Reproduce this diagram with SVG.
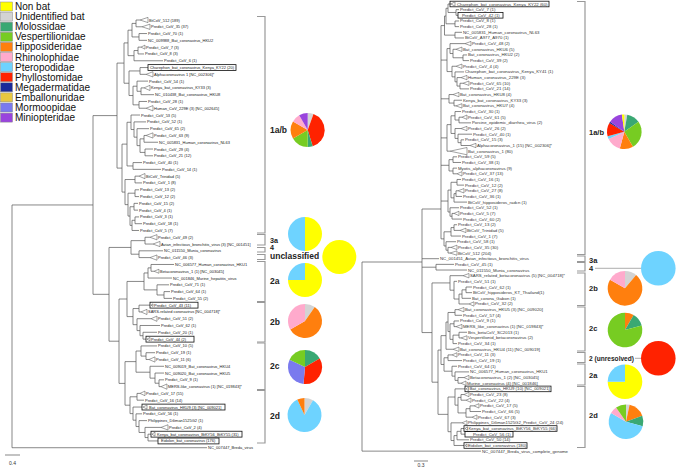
<svg xmlns="http://www.w3.org/2000/svg" width="677" height="468" viewBox="0 0 677 468">
<style>
.t{stroke:#555;stroke-width:0.7;fill:none}
.tri{fill:#fff;stroke:#555;stroke-width:0.55}
.bx{fill:none;stroke:#111;stroke-width:0.8}
.lf{font-family:"Liberation Sans",Arial,sans-serif;font-size:4px;fill:#222}
.rf{font-family:"Liberation Sans",Arial,sans-serif;font-size:4.3px;fill:#333}
.br{stroke:#999;stroke-width:1.2;fill:none}
.cl{font-family:"Liberation Sans",Arial,sans-serif;font-weight:bold;font-size:8.5px;fill:#222}
.cs{font-family:"Liberation Sans",Arial,sans-serif;font-weight:bold;font-size:7.2px;fill:#222}
.cr{font-family:"Liberation Sans",Arial,sans-serif;font-weight:bold;font-size:7.5px;fill:#222}
.lg{font-family:"Liberation Sans",Arial,sans-serif;font-size:10px;fill:#111}
.sw{stroke:#888;stroke-width:0.5}
.pie path,.pie circle{stroke:none}
.po{fill:none;stroke:#999;stroke-width:0.7}
.ln{stroke:#999;stroke-width:0.8;fill:none}
.sb{font-family:"Liberation Sans",Arial,sans-serif;font-size:5px;fill:#333}
</style>
<rect width="677" height="468" fill="#fff"/>

<g id="legend">
<rect class="sw" x="0.5" y="2" width="12" height="9" fill="#FFFF00"/><text class="lg" x="15" y="10">Non bat</text>
<rect class="sw" x="0.5" y="12.1" width="12" height="9" fill="#D3D3D3"/><text class="lg" x="15" y="20.1">Unidentified bat</text>
<rect class="sw" x="0.5" y="22.2" width="12" height="9" fill="#3AA873"/><text class="lg" x="15" y="30.2">Molossidae</text>
<rect class="sw" x="0.5" y="32.3" width="12" height="9" fill="#77CC22"/><text class="lg" x="15" y="40.3">Vespertilionidae</text>
<rect class="sw" x="0.5" y="42.4" width="12" height="9" fill="#FF7F0E"/><text class="lg" x="15" y="50.4">Hipposideridae</text>
<rect class="sw" x="0.5" y="52.5" width="12" height="9" fill="#FFAACC"/><text class="lg" x="15" y="60.5">Rhinolophidae</text>
<rect class="sw" x="0.5" y="62.6" width="12" height="9" fill="#6ED3FF"/><text class="lg" x="15" y="70.6">Pteropodidae</text>
<rect class="sw" x="0.5" y="72.7" width="12" height="9" fill="#FF2200"/><text class="lg" x="15" y="80.7">Phyllostomidae</text>
<rect class="sw" x="0.5" y="82.8" width="12" height="9" fill="#1A2A9A"/><text class="lg" x="15" y="90.8">Megadermatidae</text>
<rect class="sw" x="0.5" y="92.9" width="12" height="9" fill="#E8C840"/><text class="lg" x="15" y="100.9">Emballonuridae</text>
<rect class="sw" x="0.5" y="103" width="12" height="9" fill="#7A7AEE"/><text class="lg" x="15" y="111">Mormoopidae</text>
<rect class="sw" x="0.5" y="113.1" width="12" height="9" fill="#9944DD"/><text class="lg" x="15" y="121.1">Miniopteridae</text>
</g>

<g id="connectors">
<path class="t" d="M12,204.96V447.73M12,204.96H93M12,447.73H207"/>
<path class="t" transform="matrix(1,0,0,1.0119,33,-0.54)" d="M103,20.3V27M103,20.3H107M103,27H109
M106,33.7V40.4M106,33.7H114M106,40.4H114
M99,23.65V37.05M99,23.65H103M99,37.05H106
M105,47.1V53.85M105,47.1H108M105,53.85H111
M101,50.48V60.6M101,50.48H105M101,60.6H130
M95,30.35V55.54M95,30.35H99M95,55.54H101
M107,67.3V74M107,67.3H115M107,74H113
M108,87.4V94.1M108,87.4H111M108,94.1H121
M104,80.7V90.75M104,80.7H115M104,90.75H108
M106,100.8V107.5M106,100.8H114M106,107.5H113
M100,85.73V104.15M100,85.73H104M100,104.15H106
M96,70.65V94.94M96,70.65H107M96,94.94H100
M91,42.95V82.8M91,42.95H95M91,82.8H96
M111,134.4V141.1M111,134.4H113M111,141.1H125
M112,147.8V154.5M112,147.8H120M112,154.5H120
M107,137.75V151.15M107,137.75H111M107,151.15H112
M104,127.7V144.45M104,127.7H116M104,144.45H107
M101,121V136.08M101,121H113M101,136.08H104
M98,114.2V128.54M98,114.2H107M98,128.54H101
M100,161.2V167.9M100,161.2H109M100,167.9H128
M94,121.37V164.55M94,121.37H98M94,164.55H100
M102,174.6V181.3M102,174.6H106M102,181.3H109
M102,188.1V194.8M102,188.1H106M102,194.8H106
M101,201.5V208.2M101,201.5H105M101,208.2H105
M102,214.9V221.6M102,214.9H106M102,221.6H109
M99,218.25V228.3M99,218.25H102M99,228.3H106
M97,204.85V223.28M97,204.85H101M97,223.28H99
M95,191.45V214.06M95,191.45H102M95,214.06H97
M92,177.95V202.76M92,177.95H102M92,202.76H95
M89,142.96V190.36M89,142.96H94M89,190.36H92
M84,62.87V166.66M84,62.87H91M84,166.66H89
M112,235V241.7M112,235H117M112,241.7H120
M106,248.4V255.1M106,248.4H130M106,255.1H117
M98,238.35V251.75M98,238.35H112M98,251.75H106
M118,261.9V268.6M118,261.9H141M118,268.6H121
M115,265.25V275.3M115,265.25H118M115,275.3H139
M131,288.7V295.4M131,288.7H137M131,295.4H139
M124,282V292.05M124,282H136M124,292.05H131
M111,270.28V287.03M111,270.28H115M111,287.03H124
M106,302.1V308.8M106,302.1H117M106,308.8H108
M110,328.9V335.7M110,328.9H124M110,335.7H113
M107,322.2V332.3M107,322.2H127M107,332.3H110
M104,315.5V327.25M104,315.5H118M104,327.25H107
M100,305.45V321.38M100,305.45H106M100,321.38H104
M113,349.1V355.8M113,349.1H122M113,355.8H116
M108,342.4V352.45M108,342.4H124M108,352.45H113
M126,375.9V382.6M126,375.9H131M126,382.6H128
M122,369.2V379.25M122,369.2H131M122,379.25H126
M117,362.5V374.23M117,362.5H131M117,374.23H122
M103,347.43V368.36M103,347.43H108M103,368.36H117
M104,389.3V396M104,389.3H107M104,396H111
M115,429.6V436.3M115,429.6H118M115,436.3H125
M112,422.9V432.95M112,422.9H128M112,432.95H115
M106,416.2V427.93M106,416.2H114M106,427.93H112
M103,409.5V422.06M103,409.5H109M103,422.06H106
M100,402.8V415.78M100,402.8H109M100,415.78H103
M97,392.65V409.29M97,392.65H104M97,409.29H100
M94,278.65V313.41M94,278.65H111M94,313.41H100
M92,357.9V400.97M92,357.9H103M92,400.97H97
M86,296.03V379.43M86,296.03H94M86,379.43H92
M76,245.05V337.73M76,245.05H98M76,337.73H86
M60,114.77V291.39M60,114.77H84M60,291.39H76"/>
<path class="t" d="M456,9.66V15.32M456,9.66H459M456,15.32H458
M448,4V12.49M448,4H451M448,12.49H456
M455,20.98V26.64M455,20.98H459M455,26.64H459
M446,8.25V23.81M446,8.25H448M446,23.81H455
M455,32.3V37.96M455,32.3H462M455,37.96H464
M444.5,16.03V35.13M444.5,16.03H446M444.5,35.13H455
M463,54.94V60.6M463,54.94H467M463,60.6H469
M453,49.28V57.77M453,49.28H456M453,57.77H463
M450,43.62V53.52M450,43.62H465M450,53.52H453
M460,83.24V88.9M460,83.24H463M460,88.9H469
M457,77.58V86.07M457,77.58H461M457,86.07H460
M455,71.92V81.83M455,71.92H464M455,81.83H457
M452,66.26V76.87M452,66.26H456M452,76.87H455
M447,48.57V71.57M447,48.57H450M447,71.57H452
M454,100.22V105.88M454,100.22H462M454,105.88H456
M449,94.56V103.05M449,94.56H453M449,103.05H454
M459,117.2V122.86M459,117.2H462M459,122.86H471
M455,111.54V120.03M455,111.54H461M455,120.03H459
M461,139.84V145.5M461,139.84H464M461,145.5H470
M458,134.18V142.67M458,134.18H472M458,142.67H461
M455,128.52V138.43M455,128.52H461M455,138.43H458
M451,115.79V133.47M451,115.79H455M451,133.47H455
M447,124.63V151.16M447,124.63H451M447,151.16H450
M453,156.82V162.48M453,156.82H457M453,162.48H461
M453,168.14V173.8M453,168.14H457M453,173.8H457
M449,159.65V170.97M449,159.65H453M449,170.97H453
M457,179.46V185.12M457,179.46H461M457,185.12H464
M456,190.78V196.44M456,190.78H458M456,196.44H462
M454,193.61V202.1M454,193.61H456M454,202.1H467
M451,182.29V197.86M451,182.29H457M451,197.86H454
M452,213.42V219.08M452,213.42H454M452,219.08H462
M450,207.76V216.25M450,207.76H459M450,216.25H452
M448,190.07V212M448,190.07H451M448,212H450
M454,224.74V230.4M454,224.74H457M454,230.4H460
M451,227.57V236.06M451,227.57H454M451,236.06H461
M448,247.38V253.04M448,247.38H451M448,253.04H450
M446,241.72V250.21M446,241.72H456M446,250.21H448
M444,231.8V245.97M444,231.8H451M444,245.97H446
M441,25.58V238.88M441,25.58H444.5M441,60.07H447M441,98.81H449M441,137.9H447M441,165.31H449M441,201.04H448M441,238.88H444
M466,287V292.66M466,287H472M466,292.66H472
M462,289.83V298.32M462,289.83H466M462,298.32H471
M459,294.08V303.98M459,294.08H462M459,303.98H469
M454,281.34V299.03M454,281.34H457M454,299.03H459
M450,275.68V290.19M450,275.68H463M450,290.19H454
M455,309.64V315.3M455,309.64H458M455,315.3H462
M454,320.96V326.62M454,320.96H459M454,326.62H456
M459,332.28V337.94M459,332.28H467M459,337.94H461
M453,335.11V343.6M453,335.11H459M453,343.6H457
M450,323.79V339.36M450,323.79H454M450,339.36H453
M448,312.47V331.57M448,312.47H455M448,331.57H450
M446,322.02V349.26M446,322.02H448M446,349.26H453
M448,354.92V360.58M448,354.92H452M448,360.58H462
M458,377.56V383.22M458,377.56H464M458,383.22H461
M455,371.9V380.39M455,371.9H469M455,380.39H458
M452,366.24V376.15M452,366.24H457M452,376.15H455
M461,394.54V400.2M461,394.54H464M461,400.2H466
M470,405.86V411.52M470,405.86H474M470,411.52H481
M466,408.69V417.18M466,408.69H470M466,417.18H472
M458,397.37V412.94M458,397.37H461M458,412.94H466
M455,388.88V405.15M455,388.88H465M455,405.15H458
M461,428.5V434.16M461,428.5H464M461,434.16H465
M457,431.33V439.82M457,431.33H461M457,439.82H469
M454,435.58V445.48M454,435.58H457M454,445.48H464
M451,422.84V440.53M451,422.84H462M451,440.53H454
M448,397.02V431.69M448,397.02H455M448,431.69H451
M444,357.75V371.2M444,357.75H448M444,371.2H452
M441,335.64V364.48M441,335.64H446M441,364.48H444
M438,350.06V414.35M438,350.06H441M438,414.35H448
M432,282.93V382.2M432,282.93H450M432,382.2H438
M436,264.36V270.02M436,264.36H454M436,270.02H467
M422,209V332.57M422,209H441M422,258.7H439M422,267.19H436M422,332.57H432
M362,262V451.14M362,262H422M362,451.14H481"/>
</g>

<g id="left-tips" transform="matrix(1,0,0,1.0119,33,-0.54)">
<g id="L1"><polygon class="tri" points="107,20.3 115,17.7 115,22.9"/><text class="lf" x="116" y="21.8">BtCoV_512 (189)</text></g>
<g id="L2"><polygon class="tri" points="109,27 117,24.4 117,29.6"/><text class="lf" x="118" y="28.5">Predict_CoV_35 (37)</text></g>
<g id="L3"><text class="lf" x="115" y="35.2">Predict_CoV_70 (1)</text></g>
<g id="L4"><text class="lf" x="115" y="41.9">NC_009988_Bat_coronavirus_HKU2</text></g>
<g id="L5"><polygon class="tri" points="108,47.1 112,45.1 112,49.1"/><text class="lf" x="113" y="48.6">Predict_CoV_7 (3)</text></g>
<g id="L6"><text class="lf" x="112" y="55.35">Predict_CoV_8 (3)</text></g>
<g id="L7"><text class="lf" x="131" y="62.1">Predict_CoV_6 (1)</text></g>
<g id="L8"><rect class="bx" x="115" y="64.4" width="88" height="5.8"/><text class="lf" x="117" y="68.8">Charephon_bat_coronavirus_Kenya_KY22 (20)</text></g>
<g id="L9"><polygon class="tri" points="113,74 120,71.4 120,76.6"/><text class="lf" x="121" y="75.5">Alphacoronavirus 1 [NC_002306]*</text></g>
<g id="L10"><text class="lf" x="116" y="82.2">Predict_CoV_54 (1)</text></g>
<g id="L11"><polygon class="tri" points="111,87.4 117,84.8 117,90"/><text class="lf" x="118" y="88.9">Kenya_bat_coronavirus_KY33 (3)</text></g>
<g id="L12"><text class="lf" x="122" y="95.6">NC_010438_Bat_coronavirus_HKU8</text></g>
<g id="L13"><text class="lf" x="115" y="102.3">Predict_CoV_28 (1)</text></g>
<g id="L14"><polygon class="tri" points="113,107.5 120,104.9 120,110.1"/><text class="lf" x="121" y="109">Human_CoV_229E (3) [NC_002645]</text></g>
<g id="L15"><text class="lf" x="108" y="115.7">Predict_CoV_53 (5)</text></g>
<g id="L16"><text class="lf" x="114" y="122.5">Predict_CoV_52 (1)</text></g>
<g id="L17"><text class="lf" x="117" y="129.2">Predict_CoV_65 (2)</text></g>
<g id="L18"><polygon class="tri" points="113,134.4 120,131.8 120,137"/><text class="lf" x="121" y="135.9">Predict_CoV_63 (9)</text></g>
<g id="L19"><text class="lf" x="126" y="142.6">NC_005831_Human_coronavirus_NL63</text></g>
<g id="L20"><text class="lf" x="121" y="149.3">Predict_CoV_29 (4)</text></g>
<g id="L21"><text class="lf" x="121" y="156">Predict_CoV_21 (12)</text></g>
<g id="L22"><text class="lf" x="110" y="162.7">Predict_CoV_40 (1)</text></g>
<g id="L23"><text class="lf" x="129" y="169.4">Predict_CoV_14 (1)</text></g>
<g id="L24"><polygon class="tri" points="106,174.6 112,172 112,177.2"/><text class="lf" x="113" y="176.1">BtCoV_Trinidad (5)</text></g>
<g id="L25"><text class="lf" x="110" y="182.8">Predict_CoV_1 (8)</text></g>
<g id="L26"><text class="lf" x="107" y="189.6">Predict_CoV_13 (2)</text></g>
<g id="L27"><text class="lf" x="107" y="196.3">Predict_CoV_12 (2)</text></g>
<g id="L28"><text class="lf" x="106" y="203">Predict_CoV_15 (2)</text></g>
<g id="L29"><text class="lf" x="106" y="209.7">Predict_CoV_4 (1)</text></g>
<g id="L30"><text class="lf" x="107" y="216.4">Predict_CoV_3 (1)</text></g>
<g id="L31"><text class="lf" x="110" y="223.1">Predict_CoV_18 (1)</text></g>
<g id="L32"><text class="lf" x="107" y="229.8">Predict_CoV_5 (7)</text></g>
<g id="L33"><polygon class="tri" points="117,235 124,232.4 124,237.6"/><text class="lf" x="125" y="236.5">Predict_CoV_49 (2)</text></g>
<g id="L34"><polygon class="tri" points="120,241.7 127,239.1 127,244.3"/><text class="lf" x="128" y="243.2">Avian_infectious_bronchitis_virus (3) [NC_001451]</text></g>
<g id="L35"><text class="lf" x="131" y="249.9">NC_011550_Munia_coronavirus</text></g>
<g id="L36"><polygon class="tri" points="117,255.1 124,252.5 124,257.7"/><text class="lf" x="125" y="256.6">Predict_CoV_46 (3)</text></g>
<g id="L37"><text class="lf" x="142" y="263.4">NC_006577_Human_coronavirus_HKU1</text></g>
<g id="L38"><polygon class="tri" points="121,268.6 126,266.6 126,270.6"/><text class="lf" x="127" y="270.1">Betacoronavirus_1 (1) [NC_003045]</text></g>
<g id="L39"><text class="lf" x="140" y="276.8">NC_001846_Murine_hepatitis_virus</text></g>
<g id="L40"><text class="lf" x="137" y="283.5">Predict_CoV_71 (1)</text></g>
<g id="L41"><text class="lf" x="138" y="290.2">Predict_CoV_64 (1)</text></g>
<g id="L42"><text class="lf" x="140" y="296.9">Predict_CoV_55 (2)</text></g>
<g id="L43"><rect class="bx" x="117" y="299.2" width="48" height="5.8"/><polygon class="tri" points="118,302.1 120,300.8 120,303.4"/><text class="lf" x="121" y="303.6">Predict_CoV_43 (11)</text></g>
<g id="L44"><polygon class="tri" points="108,308.8 114,306.2 114,311.4"/><text class="lf" x="115" y="310.3">SARS-related coronavirus [NC_004718]*</text></g>
<g id="L45"><polygon class="tri" points="118,315.5 124,312.9 124,318.1"/><text class="lf" x="125" y="317">Predict_CoV_51 (2)</text></g>
<g id="L46"><text class="lf" x="128" y="323.7">Predict_CoV_62 (1)</text></g>
<g id="L47"><text class="lf" x="125" y="330.4">Predict_CoV_20 (1)</text></g>
<g id="L48"><rect class="bx" x="113" y="332.8" width="48" height="5.8"/><polygon class="tri" points="114,335.7 117,334 117,337.4"/><text class="lf" x="118" y="337.2">Predict_CoV_44 (2)</text></g>
<g id="L49"><text class="lf" x="125" y="343.9">Predict_CoV_10 (5)</text></g>
<g id="L50"><text class="lf" x="123" y="350.6">Predict_CoV_19 (1)</text></g>
<g id="L51"><polygon class="tri" points="116,355.8 122,353.2 122,358.4"/><text class="lf" x="123" y="357.3">Predict_CoV_11 (6)</text></g>
<g id="L52"><text class="lf" x="132" y="364">NC_009019_Bat_coronavirus_HKU4</text></g>
<g id="L53"><text class="lf" x="132" y="370.7">NC_009020_Bat_coronavirus_HKU5</text></g>
<g id="L54"><text class="lf" x="132" y="377.4">Predict_CoV_9 (1)</text></g>
<g id="L55"><polygon class="tri" points="128,382.6 134,380 134,385.2"/><text class="lf" x="135" y="384.1">MERS-like_coronavirus (1) [NC_019843]*</text></g>
<g id="L56"><polygon class="tri" points="107,389.3 112,387 112,391.6"/><text class="lf" x="113" y="390.8">Predict_CoV_17 (55)</text></g>
<g id="L57"><text class="lf" x="112" y="397.5">Predict_CoV_16 (14)</text></g>
<g id="L58"><rect class="bx" x="109" y="399.9" width="83" height="5.8"/><polygon class="tri" points="110,402.8 114,400.8 114,404.8"/><text class="lf" x="116" y="404.3">Bat_coronavirus_HKU9 (3) [NC_009021]</text></g>
<g id="L59"><text class="lf" x="110" y="411">Predict_CoV_56 (1)</text></g>
<g id="L60"><text class="lf" x="115" y="417.7">Philippines_Diliman1525G2 (1)</text></g>
<g id="L61"><polygon class="tri" points="128,422.9 135,420.3 135,425.5"/><text class="lf" x="136" y="424.4">Predict_CoV_2 (4)</text></g>
<g id="L62"><rect class="bx" x="118" y="426.7" width="91" height="5.8"/><polygon class="tri" points="119,429.6 122,427.6 122,431.6"/><text class="lf" x="124" y="431.1">Kenya_bat_coronavirus_BtKY56_BtKY55 (31)</text></g>
<g id="L63"><rect class="bx" x="125" y="433.4" width="61" height="5.8"/><text class="lf" x="128" y="437.8">Eidolon_bat_coronavirus (176)</text></g>
</g>
<g id="L64"><text class="lf" x="208" y="449.2">NC_007447_Breda_virus</text></g>

<g id="left-scale"><path class="t" d="M5,455H20"/><text class="sb" x="12.5" y="465" text-anchor="middle">0.4</text></g>

<g id="left-brackets">
<path class="br" d="M257,16.5H265V233H257"/>
<path class="br" d="M257,234.5H265V245H257"/>
<path class="br" d="M257,247.5H265V252H257"/>
<path class="br" d="M257,254.5H265V259.5H257"/>
<path class="br" d="M257,261.5H265V301.5H257"/>
<path class="br" d="M257,302.5H265V342H257"/>
<path class="br" d="M257,343H265V389.5H257"/>
<path class="br" d="M257,390.5H265V443H257"/>
<text class="cl" x="270" y="133">1a/b</text>
<text class="cs" x="270" y="242.5">3a</text>
<text class="cs" x="270" y="249.5">4</text>
<text class="cl" x="270" y="258.5">unclassified</text>
<text class="cl" x="270" y="284">2a</text>
<text class="cl" x="270" y="325">2b</text>
<text class="cl" x="270" y="369">2c</text>
<text class="cl" x="270" y="419">2d</text>
</g>

<g id="pie-L1a" class="pie">
<path d="M307.7,130L307.7,113A17,17 0 0 1 313.51,114.02Z" fill="#D3D3D3"/>
<path d="M307.7,130L313.51,114.02A17,17 0 0 1 312.67,146.26Z" fill="#FF2200"/>
<path d="M307.7,130L312.67,146.26A17,17 0 0 1 307.7,147Z" fill="#3AA873"/>
<path d="M307.7,130L307.7,147A17,17 0 0 1 292.98,138.5Z" fill="#77CC22"/>
<path d="M307.7,130L292.98,138.5A17,17 0 0 1 292.98,121.5Z" fill="#FF7F0E"/>
<path d="M307.7,130L292.98,121.5A17,17 0 0 1 299.2,115.28Z" fill="#FFAACC"/>
<path d="M307.7,130L299.2,115.28A17,17 0 0 1 307.7,113Z" fill="#9944DD"/>
<circle class="po" cx="307.7" cy="130" r="17"/>
</g>
<g id="pie-L3a" class="pie">
<path d="M305,234L305,217A17,17 0 0 1 305,251Z" fill="#FFFF00"/>
<path d="M305,234L305,251A17,17 0 0 1 305,217Z" fill="#6ED3FF"/>
<path class="ln" d="M305,217V251"/>
<circle class="po" cx="305" cy="234" r="17"/>
</g>
<g id="pie-Lunc" class="pie">
<circle cx="339.3" cy="257" r="17" fill="#FFFF00"/>
<path class="ln" d="M339.3,257V240"/>
<circle class="po" cx="339.3" cy="257" r="17"/>
</g>
<g id="pie-L2a" class="pie">
<path d="M305,280L305,263A17,17 0 1 1 288,280Z" fill="#FFFF00"/>
<path d="M305,280L288,280A17,17 0 0 1 305,263Z" fill="#6ED3FF"/>
<path class="ln" d="M288,280H305V263"/>
<circle class="po" cx="305" cy="280" r="17"/>
</g>
<g id="pie-L2b" class="pie">
<path d="M305,321L305,304A17,17 0 0 1 314.75,307.08Z" fill="#D3D3D3"/>
<path d="M305,321L314.75,307.08A17,17 0 1 1 290.28,329.5Z" fill="#FF7F0E"/>
<path d="M305,321L290.28,329.5A17,17 0 0 1 305,304Z" fill="#FFAACC"/>
<circle class="po" cx="305" cy="321" r="17"/>
</g>
<g id="pie-L2c" class="pie">
<path d="M305,367L305,350A17,17 0 0 1 319.72,358.5Z" fill="#3AA873"/>
<path d="M305,367L319.72,358.5A17,17 0 0 1 303.52,383.94Z" fill="#FF2200"/>
<path d="M305,367L303.52,383.94A17,17 0 0 1 289.59,359.82Z" fill="#7A7AEE"/>
<path d="M305,367L289.59,359.82A17,17 0 0 1 305,350Z" fill="#77CC22"/>
<circle class="po" cx="305" cy="367" r="17"/>
</g>
<g id="pie-L2d" class="pie">
<path d="M304.5,415L304.5,398A17,17 0 0 1 313,400.28Z" fill="#D3D3D3"/>
<path d="M304.5,415L313,400.28A17,17 0 1 1 297.32,399.59Z" fill="#6ED3FF"/>
<path d="M304.5,415L297.32,399.59A17,17 0 0 1 304.5,398Z" fill="#FF7F0E"/>
<circle class="po" cx="304.5" cy="415" r="17"/>
</g>

<g id="right-tips">
<g id="R1"><rect class="bx" x="450" y="1.2" width="99" height="5.6"/><polygon class="tri" points="451,4 455,1.8 455,6.2"/><text class="rf" x="457" y="5.5">Charephon_bat_coronavirus_Kenya_KY22 (60)</text></g>
<g id="R2"><text class="rf" x="460" y="11.16">Predict_CoV_7 (1)</text></g>
<g id="R3"><rect class="bx" x="458" y="12.5" width="45" height="5.6"/><text class="rf" x="462" y="16.82">Predict_CoV_42 (1)</text></g>
<g id="R4"><text class="rf" x="460" y="22.48">Predict_CoV_8 (1)</text></g>
<g id="R5"><text class="rf" x="460" y="28.14">Predict_CoV_28 (1)</text></g>
<g id="R6"><text class="rf" x="463" y="33.8">NC_005831_Human_coronavirus_NL63</text></g>
<g id="R7"><text class="rf" x="465" y="39.46">BtCoV_A977_A970 (1)</text></g>
<g id="R8"><polygon class="tri" points="465,43.62 471,41.42 471,45.82"/><text class="rf" x="472" y="45.12">Predict_CoV_48 (2)</text></g>
<g id="R9"><polygon class="tri" points="456,49.28 462,47.08 462,51.48"/><text class="rf" x="463" y="50.78">Bat_coronavirus_HKU6 (5)</text></g>
<g id="R10"><text class="rf" x="468" y="56.44">Bat_coronavirus_HKU2 (2)</text></g>
<g id="R11"><text class="rf" x="470" y="62.1">Predict_CoV_39 (2)</text></g>
<g id="R12"><polygon class="tri" points="456,66.26 462,64.06 462,68.46"/><text class="rf" x="463" y="67.76">Predict_CoV_4 (4)</text></g>
<g id="R13"><text class="rf" x="465" y="73.42">Charephon_bat_coronavirus_Kenya_KY41 (1)</text></g>
<g id="R14"><polygon class="tri" points="461,77.58 467,75.38 467,79.78"/><text class="rf" x="468" y="79.08">Human_coronavirus_229E (3)</text></g>
<g id="R15"><polygon class="tri" points="463,83.24 469,81.04 469,85.44"/><text class="rf" x="470" y="84.74">Predict_CoV_65 (10)</text></g>
<g id="R16"><text class="rf" x="470" y="90.4">Predict_CoV_21 (14)</text></g>
<g id="R17"><polygon class="tri" points="453,94.56 459,92.36 459,96.76"/><text class="rf" x="460" y="96.06">Bat_coronavirus_HKU8 (4)</text></g>
<g id="R18"><text class="rf" x="463" y="101.72">Kenya_bat_coronavirus_KY33 (3)</text></g>
<g id="R19"><polygon class="tri" points="456,105.88 462,103.68 462,108.08"/><text class="rf" x="463" y="107.38">Bat_coronavirus_HKU7 (4)</text></g>
<g id="R20"><text class="rf" x="462" y="113.04">Predict_CoV_30 (1)</text></g>
<g id="R21"><polygon class="tri" points="462,117.2 467,115 467,119.4"/><text class="rf" x="468" y="118.7">Predict_CoV_61 (5)</text></g>
<g id="R22"><text class="rf" x="472" y="124.36">Porcine_epidemic_diarrhea_virus (2)</text></g>
<g id="R23"><polygon class="tri" points="461,128.52 467,126.32 467,130.72"/><text class="rf" x="468" y="130.02">Predict_CoV_26 (2)</text></g>
<g id="R24"><text class="rf" x="473" y="135.68">Predict_CoV_40 (1)</text></g>
<g id="R25"><text class="rf" x="465" y="141.34">Predict_CoV_15 (3)</text></g>
<g id="R26"><polygon class="tri" points="470,145.5 476,143.3 476,147.7"/><text class="rf" x="477" y="147">Alphacoronavirus_1 (15) [NC_002306]*</text></g>
<g id="R27"><polygon class="tri" points="450,151.16 467,147.5 467,154.8"/><text class="rf" x="468" y="152.66">Bat_coronavirus_1 (80)</text></g>
<g id="R28"><text class="rf" x="458" y="158.32">Predict_CoV_59 (5)</text></g>
<g id="R29"><text class="rf" x="462" y="163.98">Predict_CoV_38 (1)</text></g>
<g id="R30"><text class="rf" x="458" y="169.64">Myotis_alphacoronavirus (9)</text></g>
<g id="R31"><polygon class="tri" points="457,173.8 462,171.6 462,176"/><text class="rf" x="463" y="175.3">Predict_CoV_37 (13)</text></g>
<g id="R32"><text class="rf" x="462" y="180.96">Predict_CoV_16 (1)</text></g>
<g id="R33"><text class="rf" x="465" y="186.62">Predict_CoV_12 (2)</text></g>
<g id="R34"><polygon class="tri" points="458,190.78 464,188.58 464,192.98"/><text class="rf" x="465" y="192.28">Predict_CoV_27 (8)</text></g>
<g id="R35"><text class="rf" x="463" y="197.94">Predict_CoV_36 (1)</text></g>
<g id="R36"><text class="rf" x="468" y="203.6">BtCoV_hipposideros_radcn (1)</text></g>
<g id="R37"><text class="rf" x="460" y="209.26">Predict_CoV_52 (1)</text></g>
<g id="R38"><polygon class="tri" points="454,213.42 459,211.22 459,215.62"/><text class="rf" x="460" y="214.92">Predict_CoV_5 (7)</text></g>
<g id="R39"><text class="rf" x="463" y="220.58">Predict_CoV_60 (2)</text></g>
<g id="R40"><text class="rf" x="458" y="226.24">Predict_CoV_13 (2)</text></g>
<g id="R41"><polygon class="tri" points="460,230.4 466,228.2 466,232.6"/><text class="rf" x="467" y="231.9">BtCoV_Trinidad (5)</text></g>
<g id="R42"><text class="rf" x="462" y="237.56">Predict_CoV_1 (7)</text></g>
<g id="R43"><text class="rf" x="457" y="243.22">Predict_CoV_58 (1)</text></g>
<g id="R44"><polygon class="tri" points="451,247.38 457,245.18 457,249.58"/><text class="rf" x="458" y="248.88">Predict_CoV_35 (30)</text></g>
<g id="R45"><polygon class="tri" points="450,253.04 457,250.84 457,255.24"/><text class="rf" x="458" y="254.54">BtCoV_512 (204)</text></g>
<g id="R46"><text class="rf" x="440" y="260.2">NC_001451_Avian_infectious_bronchitis_virus</text></g>
<g id="R47"><text class="rf" x="455" y="265.86">Predict_CoV_45 (1)</text></g>
<g id="R48"><text class="rf" x="468" y="271.52">NC_011550_Munia_coronavirus</text></g>
<g id="R49"><polygon class="tri" points="463,275.68 469,273.48 469,277.88"/><text class="rf" x="470" y="277.18">SARS_related_betacoronavirus (5) [NC_004718]*</text></g>
<g id="R50"><text class="rf" x="458" y="282.84">Predict_CoV_51 (1)</text></g>
<g id="R51"><text class="rf" x="473" y="288.5">Predict_CoV_62 (1)</text></g>
<g id="R52"><text class="rf" x="473" y="294.16">BtCoV_hipposideros_KT_Thailand(1)</text></g>
<g id="R53"><text class="rf" x="472" y="299.82">Bat_corona_Gabon (1)</text></g>
<g id="R54"><polygon class="tri" points="469,303.98 474,301.78 474,306.18"/><text class="rf" x="475" y="305.48">Predict_CoV_32 (2)</text></g>
<g id="R55"><polygon class="tri" points="458,309.64 464,307.44 464,311.84"/><text class="rf" x="465" y="311.14">Bat_coronavirus_HKU5 (3) [NC_009020]</text></g>
<g id="R56"><text class="rf" x="463" y="316.8">Predict_CoV_57 (4)</text></g>
<g id="R57"><text class="rf" x="460" y="322.46">Predict_CoV_9 (1)</text></g>
<g id="R58"><polygon class="tri" points="456,326.62 462,324.42 462,328.82"/><text class="rf" x="463" y="328.12">MERS_like_coronavirus (1) [NC_019843]*</text></g>
<g id="R59"><text class="rf" x="468" y="333.78">Bris_betaCoV_SC2013 (1)</text></g>
<g id="R60"><polygon class="tri" points="461,337.94 467,335.74 467,340.14"/><text class="rf" x="468" y="339.44">Vespertilionid_betacoronavirus (2)</text></g>
<g id="R61"><text class="rf" x="458" y="345.1">Predict_CoV_34 (1)</text></g>
<g id="R62"><polygon class="tri" points="453,349.26 459,347.06 459,351.46"/><text class="rf" x="460" y="350.76">Bat_coronavirus_HKU4 (11) [NC_009019]</text></g>
<g id="R63"><polygon class="tri" points="452,354.92 457,352.72 457,357.12"/><text class="rf" x="458" y="356.42">Predict_CoV_11 (3)</text></g>
<g id="R64"><text class="rf" x="463" y="362.08">Predict_CoV_19 (1)</text></g>
<g id="R65"><text class="rf" x="458" y="367.74">Predict_CoV_64 (1)</text></g>
<g id="R66"><text class="rf" x="470" y="373.4">NC_006577_Human_coronavirus_HKU1</text></g>
<g id="R67"><polygon class="tri" points="464,377.56 469,375.36 469,379.76"/><text class="rf" x="470" y="379.06">Betacoronavirus_1 (2) [NC_003045]</text></g>
<g id="R68"><polygon class="tri" points="461,383.22 466,381.02 466,385.42"/><text class="rf" x="467" y="384.72">Murine_coronavirus (4) [NC_001846]</text></g>
<g id="R69"><rect class="bx" x="465" y="386.1" width="86" height="5.6"/><polygon class="tri" points="466,388.88 468.5,387.2 468.5,390.6"/><text class="rf" x="469.5" y="390.38">Bat_coronavirus_HKU9 (10) [NC_009021]</text></g>
<g id="R70"><polygon class="tri" points="464,394.54 469,392.34 469,396.74"/><text class="rf" x="470" y="396.04">Predict_CoV_23 (8)</text></g>
<g id="R71"><polygon class="tri" points="466,400.2 471,398 471,402.4"/><text class="rf" x="472" y="401.7">Predict_CoV_22 (4)</text></g>
<g id="R72"><polygon class="tri" points="474,405.86 479,403.66 479,408.06"/><text class="rf" x="480" y="407.36">Predict_CoV_17 (5)</text></g>
<g id="R73"><text class="rf" x="482" y="413.02">Predict_CoV_66 (5)</text></g>
<g id="R74"><polygon class="tri" points="472,417.18 477,414.98 477,419.38"/><text class="rf" x="478" y="418.68">Predict_CoV_67 (3)</text></g>
<g id="R75"><polygon class="tri" points="462,422.84 467,420.64 467,425.04"/><text class="rf" x="468" y="424.34">Philippines_Diliman1525G2_Predict_CoV_24 (24)</text></g>
<g id="R76"><rect class="bx" x="464" y="425.7" width="93" height="5.6"/><polygon class="tri" points="465,428.5 467.5,426.8 467.5,430.2"/><text class="rf" x="468.5" y="430">Kenya_bat_coronavirus_BtKY56_BtKY55 (66)</text></g>
<g id="R77"><rect class="bx" x="465" y="431.4" width="48" height="5.6"/><text class="rf" x="473" y="435.66">Predict_CoV_56 (1)</text></g>
<g id="R78"><text class="rf" x="470" y="441.32">Predict_CoV_50 (14)</text></g>
<g id="R79"><rect class="bx" x="464" y="442.7" width="63" height="5.6"/><polygon class="tri" points="465,445.48 467,444 467,447"/><text class="rf" x="468" y="446.98">Eidolon_bat_coronavirus (180)</text></g>
<g id="R80"><text class="rf" x="482" y="452.64">NC_007447_Breda_virus_complete_genome</text></g>
</g>

<g id="right-scale"><path class="t" d="M414,461H428"/><text class="sb" x="421" y="467" text-anchor="middle">0.3</text></g>

<g id="right-brackets">
<path class="br" d="M577,1.5H585V254.5H577"/>
<path class="br" d="M577,256H585V261.5H577"/>
<path class="br" d="M577,262.5H585V271H577"/>
<path class="br" d="M577,273H585V305.5H577"/>
<path class="br" d="M577,307H585V351H577"/>
<path class="br" d="M577,352.5H585V362.5H577"/>
<path class="br" d="M577,364H585V385H577"/>
<path class="br" d="M577,386.5H585V447.5H577"/>
<text class="cr" x="589" y="134.5">1a/b</text>
<text class="cr" x="589" y="262.7">3a</text>
<text class="cr" x="589" y="270.9">4</text>
<text class="cr" x="589" y="290.7">2b</text>
<text class="cr" x="589" y="330.7">2c</text>
<text class="cr" x="589" y="360.7" textLength="45" lengthAdjust="spacingAndGlyphs">2 (unresolved)</text>
<text class="cr" x="589" y="377.7">2a</text>
<text class="cr" x="589" y="417.7">2d</text>
<path class="ln" d="M595,268.3H641M635,358.3H641"/>
</g>

<g id="pie-R1a" class="pie">
<path d="M624.3,131.7L624.3,114.4A17.3,17.3 0 0 1 627.3,114.66Z" fill="#D3D3D3"/>
<path d="M624.3,131.7L627.3,114.66A17.3,17.3 0 0 1 638.47,121.78Z" fill="#3AA873"/>
<path d="M624.3,131.7L638.47,121.78A17.3,17.3 0 0 1 632.95,146.68Z" fill="#77CC22"/>
<path d="M624.3,131.7L632.95,146.68A17.3,17.3 0 0 1 619.82,148.41Z" fill="#FF7F0E"/>
<path d="M624.3,131.7L619.82,148.41A17.3,17.3 0 0 1 608.62,139.01Z" fill="#FFAACC"/>
<path d="M624.3,131.7L608.62,139.01A17.3,17.3 0 0 1 607.59,136.18Z" fill="#6ED3FF"/>
<path d="M624.3,131.7L607.59,136.18A17.3,17.3 0 0 1 609.32,123.05Z" fill="#FF2200"/>
<path d="M624.3,131.7L609.32,123.05A17.3,17.3 0 0 1 610.13,121.78Z" fill="#1A2A9A"/>
<path d="M624.3,131.7L610.13,121.78A17.3,17.3 0 0 1 621.89,114.57Z" fill="#9944DD"/>
<path d="M624.3,131.7L621.89,114.57A17.3,17.3 0 0 1 624.3,114.4Z" fill="#FFFF00"/>
<circle class="po" cx="624.3" cy="131.7" r="17.3"/>
</g>
<g id="pie-R4" class="pie">
<circle cx="658.3" cy="268.3" r="17.3" fill="#6ED3FF"/>
<path class="ln" d="M658.3,268.3V251"/>
<circle class="po" cx="658.3" cy="268.3" r="17.3"/>
</g>
<g id="pie-R2b" class="pie">
<path d="M625,288.3L625,271A17.3,17.3 0 0 1 636.12,275.05Z" fill="#D3D3D3"/>
<path d="M625,288.3L636.12,275.05A17.3,17.3 0 1 1 610.02,279.65Z" fill="#FF7F0E"/>
<path d="M625,288.3L610.02,279.65A17.3,17.3 0 0 1 625,271Z" fill="#FFAACC"/>
<circle class="po" cx="625" cy="288.3" r="17.3"/>
</g>
<g id="pie-R2c" class="pie">
<path d="M625,330L625,312.7A17.3,17.3 0 0 1 633.65,315.02Z" fill="#FF7F0E"/>
<path d="M625,330L633.65,315.02A17.3,17.3 0 0 1 641.71,325.52Z" fill="#3AA873"/>
<path d="M625,330L641.71,325.52A17.3,17.3 0 1 1 625,312.7Z" fill="#77CC22"/>
<circle class="po" cx="625" cy="330" r="17.3"/>
</g>
<g id="pie-R2u" class="pie">
<circle cx="658.3" cy="358.3" r="17.3" fill="#FF2200"/>
<path class="ln" d="M658.3,358.3V341"/>
<circle class="po" cx="658.3" cy="358.3" r="17.3"/>
</g>
<g id="pie-R2a" class="pie">
<path d="M625,381.7L625,364.4A17.3,17.3 0 1 1 607.7,381.7Z" fill="#FFFF00"/>
<path d="M625,381.7L607.7,381.7A17.3,17.3 0 0 1 625,364.4Z" fill="#6ED3FF"/>
<path class="ln" d="M607.7,381.7H625V364.4"/>
<circle class="po" cx="625" cy="381.7" r="17.3"/>
</g>
<g id="pie-R2d" class="pie">
<path d="M626,421.7L626,404.4A17.3,17.3 0 0 1 629.6,404.78Z" fill="#D3D3D3"/>
<path d="M626,421.7L629.6,404.78A17.3,17.3 0 0 1 642.26,415.78Z" fill="#FF7F0E"/>
<path d="M626,421.7L642.26,415.78A17.3,17.3 0 0 1 642.71,426.18Z" fill="#3AA873"/>
<path d="M626,421.7L642.71,426.18A17.3,17.3 0 1 1 611.02,413.05Z" fill="#6ED3FF"/>
<path d="M626,421.7L611.02,413.05A17.3,17.3 0 0 1 616.08,407.53Z" fill="#FFAACC"/>
<path d="M626,421.7L616.08,407.53A17.3,17.3 0 0 1 626,404.4Z" fill="#77CC22"/>
<circle class="po" cx="626" cy="421.7" r="17.3"/>
</g>
</svg>
